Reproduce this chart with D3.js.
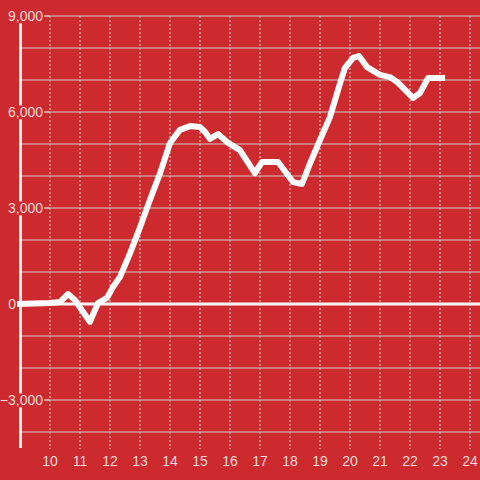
<!DOCTYPE html>
<html>
<head>
<meta charset="utf-8">
<style>
body { margin: 0; background: #cd2a2f; }
svg { display: block; font-family: "Liberation Sans", Arial, sans-serif; }
</style>
<script src="https://cdn.jsdelivr.net/npm/d3@7/dist/d3.min.js"></script>
</head>
<body>
<div id="chart"></div>
<script>
// hour of day
var hours = [8.9, 10.0, 10.33, 10.6, 10.83, 11.33, 11.6, 11.9, 12.1, 12.33, 12.67, 13.0, 13.33, 13.67,
             14.0, 14.33, 14.67, 15.0, 15.17, 15.33, 15.6, 15.9, 16.33, 16.83, 17.07, 17.6, 18.1, 18.4,
             18.67, 19.0, 19.33, 19.67, 19.83, 20.1, 20.3, 20.57, 21.0, 21.33, 21.57, 22.1, 22.33, 22.6, 23.17];
// running value
var values = [0, 30, 60, 310, 125, -560, 30, 190, 530, 840, 1590, 2400, 3250, 4090,
              5030, 5440, 5560, 5530, 5375, 5160, 5310, 5060, 4810, 4090, 4440, 4440, 3810, 3750,
              4400, 5125, 5840, 6900, 7375, 7690, 7750, 7400, 7160, 7090, 6940, 6440, 6590, 7060, 7060];
var xTicks = [10, 11, 12, 13, 14, 15, 16, 17, 18, 19, 20, 21, 22, 23, 24];
var yGrid = [-4000, -3000, -2000, -1000, 1000, 2000, 3000, 4000, 5000, 6000, 7000, 8000, 9000];
var yLabels = [-3000, 0, 3000, 6000, 9000];

var W = 480, H = 480;
var x = d3.scaleLinear().domain([9, 24.333]).range([20, 480]);
var y = d3.scaleLinear().domain([-4500, 9000]).range([448, 16]);

var svg = d3.select("#chart").append("svg")
    .attr("width", W).attr("height", H);

svg.append("rect").attr("width", W).attr("height", H).attr("fill", "#cd2a2f");

// vertical dashed grid
svg.append("g").selectAll("line")
    .data(xTicks).enter().append("line")
    .attr("x1", function(d) { return x(d); }).attr("x2", function(d) { return x(d); })
    .attr("y1", y(9000)).attr("y2", 449)
    .attr("stroke", "#e6d0d0").attr("stroke-width", 1)
    .attr("stroke-dasharray", "2,2");

// horizontal grid
svg.append("g").selectAll("line")
    .data(yGrid).enter().append("line")
    .attr("x1", 22).attr("x2", W)
    .attr("y1", function(d) { return y(d); }).attr("y2", function(d) { return y(d); })
    .attr("stroke", "#d3c9c9").attr("stroke-width", 1);

// y axis line
svg.append("line")
    .attr("x1", 20.5).attr("x2", 20.5)
    .attr("y1", y(9000)).attr("y2", 448)
    .attr("stroke", "#f2eeee").attr("stroke-width", 3);

// zero line
svg.append("line")
    .attr("x1", 17).attr("x2", W)
    .attr("y1", y(0)).attr("y2", y(0))
    .attr("stroke", "#f7f3f3").attr("stroke-width", 3);

// y labels with background boxes covering the axis
var yl = svg.append("g").selectAll("g")
    .data(yLabels).enter().append("g")
    .attr("transform", function(d) { return "translate(0," + y(d) + ")"; });
yl.each(function(d) {
  var g = d3.select(this);
  var tx = d === 0 ? 16 : 43;
  if (d !== 0) {
    g.append("line").attr("x1", 44).attr("x2", 50).attr("y1", 0).attr("y2", 0)
      .attr("stroke", "#d3c9c9").attr("stroke-width", 1);
  }
  var t = g.append("text")
      .attr("x", tx).attr("y", 0).attr("dy", "0.38em")
      .attr("text-anchor", "end")
      .attr("font-size", "14px")
      .attr("fill", "#f4d9da")
      .text(d3.format(",")(d));
  if (d !== 0) {
    var b = t.node().getBBox();
    g.insert("rect", "text")
      .attr("x", b.x - 1).attr("y", b.y + 1)
      .attr("width", b.width + 2).attr("height", b.height - 2)
      .attr("fill", "#cd2a2f");
  }
});

// x labels
svg.append("g").selectAll("text")
    .data(xTicks).enter().append("text")
    .attr("x", function(d) { return x(d); }).attr("y", 466)
    .attr("text-anchor", "middle")
    .attr("font-size", "14px")
    .attr("fill", "#f4d9da")
    .text(function(d) { return d; });

// the line
var line = d3.line()
    .x(function(d, i) { return x(hours[i]); })
    .y(function(d) { return y(d); });

svg.append("path")
    .datum(values)
    .attr("d", line)
    .attr("fill", "none")
    .attr("stroke", "#ffffff")
    .attr("stroke-width", 6)
    .attr("stroke-linejoin", "round");
</script>
</body>
</html>
